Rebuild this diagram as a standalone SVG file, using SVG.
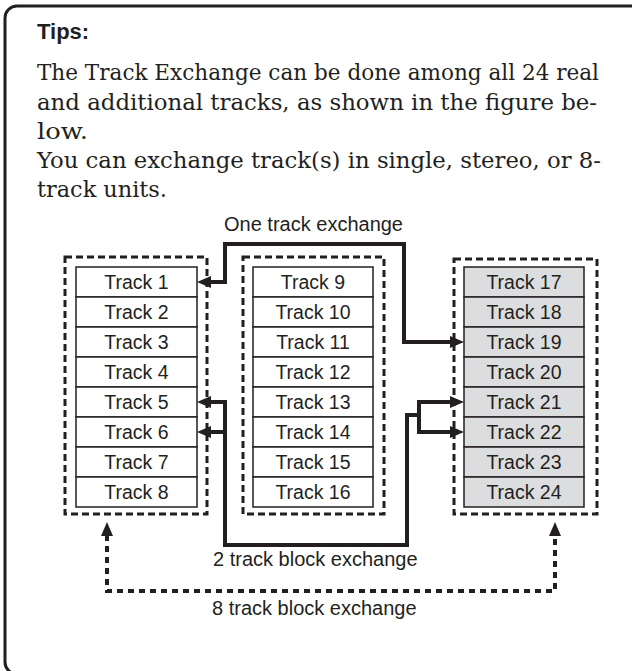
<svg xmlns="http://www.w3.org/2000/svg" width="632" height="671" viewBox="0 0 632 671">
<style>
.frame{fill:none;stroke:#231f20;stroke-width:3}
.grp{fill:none;stroke:#231f20;stroke-width:3;stroke-dasharray:7 4}
.cell{fill:#fff;stroke:#231f20;stroke-width:1.5}
.cellg{fill:#dcdddf;stroke:#231f20;stroke-width:1.5}
.tl{font-family:"Liberation Sans",Arial,sans-serif;font-size:19.5px;fill:#231f20;text-anchor:middle}
.lbl{font-family:"Liberation Sans",Arial,sans-serif;font-size:20px;fill:#231f20}
.body{font-family:"DejaVu Serif","Liberation Serif",serif;font-size:23px;fill:#231f20}
.tips{font-family:"Liberation Sans",Arial,sans-serif;font-size:22px;font-weight:bold;fill:#231f20}
.conn{fill:none;stroke:#231f20;stroke-width:4;stroke-linejoin:miter}
.dconn{fill:none;stroke:#231f20;stroke-width:4;stroke-dasharray:6 5}
.ah{fill:#231f20}
</style>
<rect class="frame" x="5" y="6" width="640" height="668" rx="12"/>
<g id="tips-text">
<text class="tips" x="37" y="39">Tips:</text>
<text class="body" x="37" y="80" textLength="562" lengthAdjust="spacingAndGlyphs" style="font-size:22px">The Track Exchange can be done among all 24 real</text>
<text class="body" x="37" y="110" textLength="560" lengthAdjust="spacingAndGlyphs">and additional tracks, as shown in the figure be-</text>
<text class="body" x="37" y="139" textLength="51" lengthAdjust="spacingAndGlyphs">low.</text>
<text class="body" x="37" y="168" textLength="564" lengthAdjust="spacingAndGlyphs">You can exchange track(s) in single, stereo, or 8-</text>
<text class="body" x="37" y="197" textLength="130" lengthAdjust="spacingAndGlyphs">track units.</text>
</g>
<g id="group-left">
<rect class="grp" x="65" y="257" width="142" height="257"/>
<rect class="cell" x="76" y="267" width="121" height="30"/><text class="tl" x="136.5" y="289">Track 1</text>
<rect class="cell" x="76" y="297" width="121" height="30"/><text class="tl" x="136.5" y="319">Track 2</text>
<rect class="cell" x="76" y="327" width="121" height="30"/><text class="tl" x="136.5" y="349">Track 3</text>
<rect class="cell" x="76" y="357" width="121" height="30"/><text class="tl" x="136.5" y="379">Track 4</text>
<rect class="cell" x="76" y="387" width="121" height="30"/><text class="tl" x="136.5" y="409">Track 5</text>
<rect class="cell" x="76" y="417" width="121" height="30"/><text class="tl" x="136.5" y="439">Track 6</text>
<rect class="cell" x="76" y="447" width="121" height="30"/><text class="tl" x="136.5" y="469">Track 7</text>
<rect class="cell" x="76" y="477" width="121" height="30"/><text class="tl" x="136.5" y="499">Track 8</text>
</g>
<g id="group-middle">
<rect class="grp" x="243" y="257" width="141" height="257"/>
<rect class="cell" x="253" y="267" width="120" height="30"/><text class="tl" x="313" y="289">Track 9</text>
<rect class="cell" x="253" y="297" width="120" height="30"/><text class="tl" x="313" y="319">Track 10</text>
<rect class="cell" x="253" y="327" width="120" height="30"/><text class="tl" x="313" y="349">Track 11</text>
<rect class="cell" x="253" y="357" width="120" height="30"/><text class="tl" x="313" y="379">Track 12</text>
<rect class="cell" x="253" y="387" width="120" height="30"/><text class="tl" x="313" y="409">Track 13</text>
<rect class="cell" x="253" y="417" width="120" height="30"/><text class="tl" x="313" y="439">Track 14</text>
<rect class="cell" x="253" y="447" width="120" height="30"/><text class="tl" x="313" y="469">Track 15</text>
<rect class="cell" x="253" y="477" width="120" height="30"/><text class="tl" x="313" y="499">Track 16</text>
</g>
<g id="group-right">
<rect class="grp" x="454" y="259" width="143" height="255"/>
<rect class="cellg" x="464" y="267" width="120" height="30"/><text class="tl" x="524" y="289">Track 17</text>
<rect class="cellg" x="464" y="297" width="120" height="30"/><text class="tl" x="524" y="319">Track 18</text>
<rect class="cellg" x="464" y="327" width="120" height="30"/><text class="tl" x="524" y="349">Track 19</text>
<rect class="cellg" x="464" y="357" width="120" height="30"/><text class="tl" x="524" y="379">Track 20</text>
<rect class="cellg" x="464" y="387" width="120" height="30"/><text class="tl" x="524" y="409">Track 21</text>
<rect class="cellg" x="464" y="417" width="120" height="30"/><text class="tl" x="524" y="439">Track 22</text>
<rect class="cellg" x="464" y="447" width="120" height="30"/><text class="tl" x="524" y="469">Track 23</text>
<rect class="cellg" x="464" y="477" width="120" height="30"/><text class="tl" x="524" y="499">Track 24</text>
</g>
<g id="connectors">
<path class="conn" d="M210 282 H225 V244 H404 V342 H451"/>
<polygon class="ah" points="197,282 211,276 211,288"/>
<polygon class="ah" points="464,342 450,336 450,348"/>
<text class="lbl" x="224" y="231">One track exchange</text>
<path class="conn" d="M210 402 H225 V545 H407 V415 H421"/>
<path class="conn" d="M225 432 H210"/>
<path class="conn" d="M451 402 H419 V432 H451"/>
<polygon class="ah" points="197,402 211,396 211,408"/>
<polygon class="ah" points="197,432 211,426 211,438"/>
<polygon class="ah" points="464,402 450,396 450,408"/>
<polygon class="ah" points="464,432 450,426 450,438"/>
<text class="lbl" x="213" y="566">2 track block exchange</text>
<path class="dconn" d="M107 535 V591 H555 V535"/>
<polygon class="ah" points="107,522 101,536 113,536"/>
<polygon class="ah" points="555,522 549,536 561,536"/>
<text class="lbl" x="212" y="615">8 track block exchange</text>
</g>
</svg>
